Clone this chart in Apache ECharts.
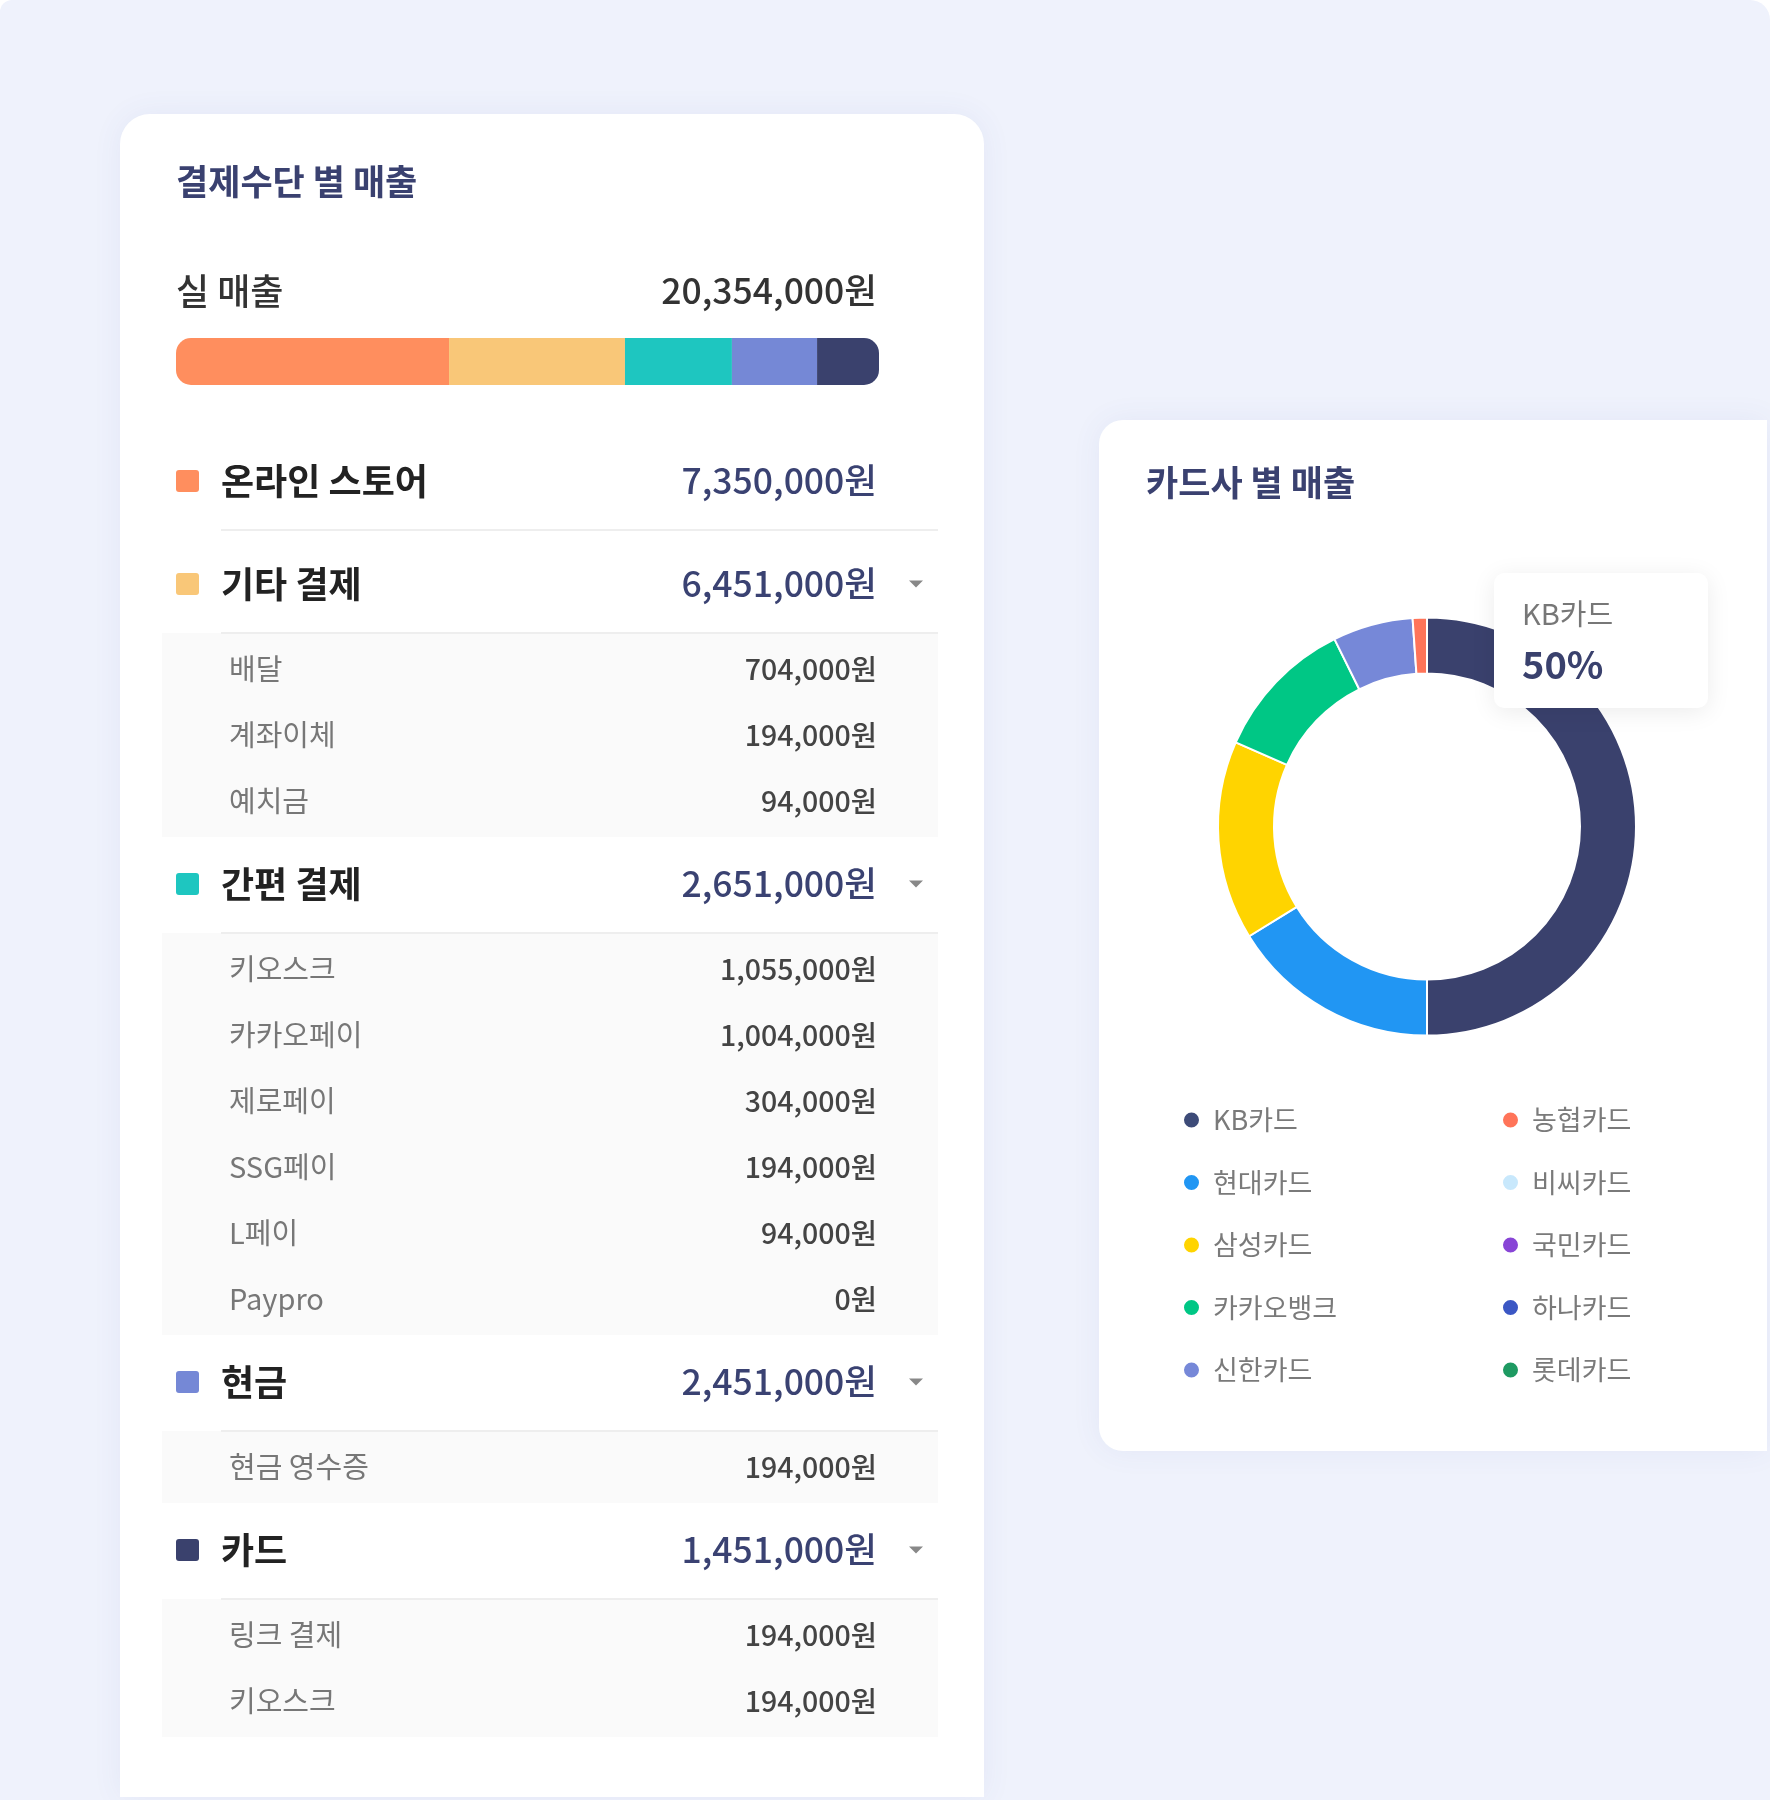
<!DOCTYPE html>
<html>
<head>
<meta charset="utf-8">
<script src="https://cdn.jsdelivr.net/npm/echarts@6/dist/echarts.min.js"></script>
<style>
    html, body { margin: 0; padding: 0; background: #ffffff; }
    #salesBoard { width: 1770px; height: 1800px; }
</style>
</head>
<body>
<div id="salesBoard"></div>
<script>
// 결제수단 별 매출
var totalLabel = '실 매출';
var totalValue = 20354000;
var groupNames = ['온라인 스토어', '기타 결제', '간편 결제', '현금', '카드'];
var groupValues = [7350000, 6451000, 2651000, 2451000, 1451000];
// bar segment lengths (%)
var barShare = [38.8, 25.0, 15.2, 12.1, 8.8];
var subNames = [
    [],
    ['배달', '계좌이체', '예치금'],
    ['키오스크', '카카오페이', '제로페이', 'SSG페이', 'L페이', 'Paypro'],
    ['현금 영수증'],
    ['링크 결제', '키오스크']
];
var subValues = [
    [],
    [704000, 194000, 94000],
    [1055000, 1004000, 304000, 194000, 94000, 0],
    [194000],
    [194000, 194000]
];

// 카드사 별 매출 (%)
var cardNames = ['KB카드', '현대카드', '삼성카드', '카카오뱅크', '신한카드', '농협카드', '비씨카드', '국민카드', '하나카드', '롯데카드'];
var cardShares = [50, 16.2, 15.4, 11.1, 6.2, 1.1, 0, 0, 0, 0];

var groupColors = ['#ff8e5e', '#f9c778', '#1ec6c0', '#7588d6', '#3a416d'];
var cardColors = ['#3a416d', '#2196f3', '#ffd400', '#00c785', '#7688d8', '#ff7459', '#c8e8fc', '#8845d6', '#3b57c4', '#1e9a62'];
var legendColors = ['#3d4b78', '#2196f3', '#ffd400', '#00c785', '#7688d8', '#ff7459', '#c8e8fc', '#8845d6', '#3b57c4', '#1e9a62'];

var FONT = '"Noto Sans CJK KR", "Noto Sans", sans-serif';
var NAVY = '#3a4170';

function won(v) {
    return v.toLocaleString('en-US') + '원';
}

var chart = echarts.init(document.getElementById('salesBoard'), null, {renderer: 'canvas'});

var elements = [];

// page + cards
elements.push({
    type: 'rect', z: -30,
    shape: {x: 0, y: 0, width: 1770, height: 1800, r: [12, 20, 0, 0]},
    style: {fill: '#eff2fc'}
});
elements.push({
    type: 'rect', z: -20,
    shape: {x: 120, y: 114, width: 864, height: 1683, r: [30, 30, 0, 0]},
    style: {fill: '#ffffff', shadowBlur: 30, shadowColor: 'rgba(70,80,170,0.07)'}
});
elements.push({
    type: 'rect', z: -20,
    shape: {x: 1099, y: 420, width: 668, height: 1031, r: [24, 0, 0, 24]},
    style: {fill: '#ffffff', shadowBlur: 30, shadowColor: 'rgba(70,80,170,0.07)'}
});

function txt(x, y, text, size, color, weight, align) {
    return {
        type: 'text', z: 10, x: x, y: y,
        style: {
            text: text, fill: color, fontSize: size, fontFamily: FONT,
            fontWeight: weight || 'normal', align: align || 'left', verticalAlign: 'middle'
        }
    };
}

elements.push(txt(176, 182, '결제수단 별 매출', 35, NAVY, 'bold'));
elements.push(txt(176, 291, totalLabel, 36, '#333333', 500));
elements.push(txt(877, 291, won(totalValue), 35.5, '#333333', 500, 'right'));

// list rows
var y = 481;
groupNames.forEach(function (name, i) {
    var subs = subNames[i];
    var sep = y + 49;
    if (subs.length) {
        elements.push({
            type: 'rect', z: -5,
            shape: {x: 162, y: sep, width: 776, height: 6 + subs.length * 66},
            style: {fill: '#fafafa'}
        });
    }
    elements.push({
        type: 'rect', z: 0,
        shape: {x: 176, y: y - 11, width: 23, height: 22, r: 3},
        style: {fill: groupColors[i]}
    });
    elements.push(txt(221, y, name, 36, '#222222', 600));
    elements.push(txt(877, y, won(groupValues[i]), 35.5, '#3a4272', 500, 'right'));
    if (subs.length) {
        elements.push({
            type: 'polygon', z: 10,
            shape: {points: [[909, y - 3.5], [923, y - 3.5], [916, y + 3.5]]},
            style: {fill: '#888888'}
        });
    }
    elements.push({
        type: 'rect', z: 1,
        shape: {x: 221, y: sep - 1, width: 717, height: 2},
        style: {fill: '#eeeeee'}
    });
    subs.forEach(function (s, k) {
        var sy = sep + 36 + k * 66;
        elements.push(txt(229, sy, s, 29, '#777777', 'normal'));
        elements.push(txt(877, sy, won(subValues[i][k]), 28.5, '#444444', 500, 'right'));
    });
    y = subs.length ? sep + 6 + subs.length * 66 + 47 : sep + 54;
});

// right card
elements.push(txt(1146, 483, '카드사 별 매출', 35, NAVY, 'bold'));

var shareSum = cardShares.reduce(function (a, b) { return a + b; }, 0);
elements.push({
    type: 'rect', z: 20,
    shape: {x: 1494, y: 573, width: 214, height: 135, r: 10},
    style: {fill: '#ffffff', shadowBlur: 24, shadowColor: 'rgba(0,0,0,0.08)', shadowOffsetY: 4}
});
var tipText = txt(1522, 614, cardNames[0], 29, '#777777', 'normal');
tipText.z = 21;
elements.push(tipText);
var tipPct = txt(1522, 665, Math.round(cardShares[0] / shareSum * 100) + '%', 38, '#3a416d', 'bold');
tipPct.z = 21;
elements.push(tipPct);

var barSeries = barShare.map(function (v, i) {
    var r = 0;
    if (i === 0) r = [15, 0, 0, 15];
    if (i === barShare.length - 1) r = [0, 15, 15, 0];
    return {
        type: 'bar',
        name: groupNames[i],
        stack: 'total',
        barWidth: 47,
        silent: true,
        data: [v],
        itemStyle: {color: groupColors[i], borderRadius: r}
    };
});

var pieData = cardNames.map(function (n, i) {
    return {name: n, value: cardShares[i], itemStyle: {color: cardColors[i]}};
});

function legendBlock(names, left) {
    return {
        orient: 'vertical',
        left: left,
        top: 1106,
        padding: 0,
        itemGap: 34.5,
        itemWidth: 17,
        itemHeight: 17,
        icon: 'circle',
        selectedMode: false,
        data: names.map(function (n) {
            return {name: n, itemStyle: {color: legendColors[cardNames.indexOf(n)]}};
        }),
        textStyle: {fontSize: 27, color: '#7a7a7a', fontFamily: FONT, lineHeight: 28, padding: [0, 0, 0, 8]}
    };
}

var option = {
    animation: false,
    textStyle: {fontFamily: FONT},
    grid: {left: 176, top: 338, width: 703, height: 47},
    xAxis: {
        type: 'value', min: 0,
        max: barShare.reduce(function (a, b) { return a + b; }, 0),
        show: false
    },
    yAxis: {type: 'category', data: [totalLabel], show: false},
    legend: [
        legendBlock(cardNames.slice(0, 5), 1182),
        legendBlock(cardNames.slice(5), 1501)
    ],
    series: barSeries.concat([{
        type: 'pie',
        name: '카드사 별 매출',
        center: [1427, 826.5],
        radius: [153, 209],
        startAngle: 90,
        clockwise: true,
        silent: true,
        label: {show: false},
        labelLine: {show: false},
        itemStyle: {borderColor: '#ffffff', borderWidth: 2},
        data: pieData
    }]),
    graphic: {elements: elements}
};

chart.setOption(option);
</script>
</body>
</html>
